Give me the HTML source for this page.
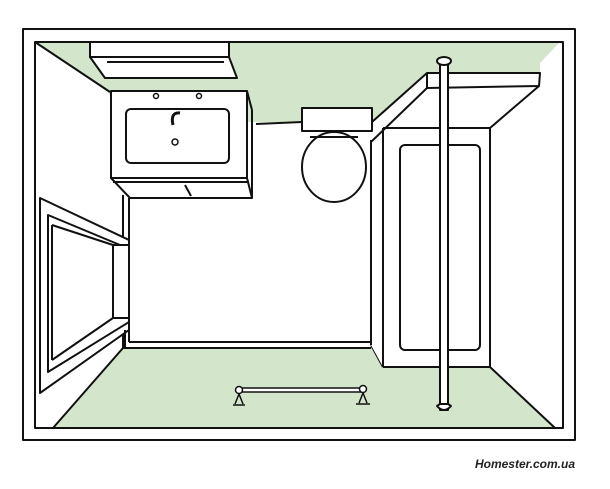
<!DOCTYPE html>
<html><head><style>body{margin:0;background:#fff}svg{display:block}</style></head><body>
<svg width="610" height="489" viewBox="0 0 610 489" xmlns="http://www.w3.org/2000/svg">
<rect width="610" height="489" fill="#fff"/>
<g stroke="#111" stroke-width="2" fill="none" stroke-linejoin="round">
<!-- green ceiling -->
<polygon points="35,42 560,42 540,63 540,73 427,73 372,122 122,122 108,92" fill="#d3e6cc" stroke="none"/>
<!-- green floor -->
<polygon points="123,347 371,347 383,367 490,367 555,428 53,428" fill="#d3e6cc" stroke="none"/>
<rect x="23" y="29" width="552" height="411"/>
<rect x="35" y="42" width="528" height="386"/>
<line x1="35" y1="42" x2="110" y2="92"/>
<line x1="53" y1="428" x2="123" y2="348"/>
<line x1="555" y1="428" x2="490" y2="367"/>
<!-- back wall -->
<line x1="123" y1="195" x2="123" y2="348"/>
<line x1="129" y1="198" x2="129" y2="342"/>
<line x1="129" y1="342" x2="371" y2="342"/>
<line x1="123" y1="348" x2="371" y2="348"/>
<line x1="371" y1="345" x2="383" y2="367"/>
<line x1="256" y1="124" x2="302" y2="122"/>
<!-- cabinet -->
<rect x="90" y="42" width="139" height="15" fill="#fff"/>
<polygon points="90,57 229,57 237,78 105,78" fill="#fff"/>
<line x1="107" y1="62" x2="224" y2="62"/>
<!-- vanity -->
<polygon points="111,178 247,178 252,198 130,198" fill="#fff"/>
<rect x="111" y="91" width="136" height="87" fill="#fff"/>
<line x1="247" y1="91" x2="252" y2="110"/><line x1="252" y1="110" x2="252" y2="198"/>
<line x1="113" y1="182" x2="249" y2="182"/>
<line x1="185" y1="185" x2="191" y2="196"/>
<rect x="126" y="109" width="103" height="54" rx="5" fill="#fff"/>
<path d="M173,125 Q170,112 180,113" stroke-width="3"/>
<circle cx="175" cy="142" r="3" stroke-width="1.5"/>
<circle cx="156" cy="96" r="2.5" stroke-width="1.5"/>
<circle cx="199" cy="96" r="2.5" stroke-width="1.5"/>
<!-- toilet -->
<rect x="302" y="108" width="70" height="23" fill="#fff"/>
<ellipse cx="334" cy="167" rx="32" ry="35" fill="#fff"/>
<line x1="310" y1="137" x2="358" y2="137"/>
<!-- tub -->
<polygon points="427,73 540,73 538,88 490,128 490,367 383,367 371,345 371,140" fill="#fff" stroke="none"/>
<polygon points="427,73 540,73 539,86 427,88" fill="#fff"/>
<line x1="427" y1="88" x2="371" y2="142"/>
<line x1="427" y1="73" x2="372" y2="122"/>
<line x1="539" y1="86" x2="490" y2="128"/>
<line x1="383" y1="128" x2="490" y2="128"/>
<line x1="371" y1="140" x2="371" y2="345"/>
<line x1="383" y1="128" x2="383" y2="367"/>
<line x1="490" y1="128" x2="490" y2="367"/>
<line x1="383" y1="367" x2="490" y2="367"/>
<rect x="400" y="145" width="80" height="205" rx="5"/>
<!-- pole -->
<rect x="440" y="60" width="8" height="350" fill="#fff"/>
<ellipse cx="444" cy="61" rx="7" ry="4" fill="#fff"/>
<path d="M437,406 Q444,414 451,406 L448,404 L440,404 Z" fill="#fff"/>
<!-- window -->
<polygon points="40,198 129,240 129,330 40,393" fill="#fff"/>
<polygon points="48,215 120,245 113,245 113,318 129,318 129,322 48,372" fill="#fff"/>
<line x1="52" y1="225" x2="113" y2="245"/>
<line x1="52" y1="225" x2="52" y2="360"/>
<line x1="52" y1="360" x2="113" y2="318"/>
<line x1="113" y1="245" x2="113" y2="318"/>
<line x1="113" y1="245" x2="129" y2="245"/>
<line x1="125" y1="330" x2="125" y2="348"/>
<!-- towel rail -->
<rect x="238" y="388" width="126" height="4" fill="#fff" stroke-width="1.5"/>
<circle cx="239" cy="390" r="3.5" fill="#fff" stroke-width="1.5"/>
<circle cx="363" cy="389" r="3.5" fill="#fff" stroke-width="1.5"/>
<path d="M239,394 L235,404 M239,394 L243,404 M233,405 L245,405 M363,393 L359,403 M363,393 L367,403 M356,404 L370,404" stroke-width="1.5"/>
</g>
<text x="575" y="468" text-anchor="end" font-family="Liberation Sans, sans-serif" font-size="12" font-weight="bold" font-style="italic" fill="#222">Homester.com.ua</text>
</svg>
</body></html>
